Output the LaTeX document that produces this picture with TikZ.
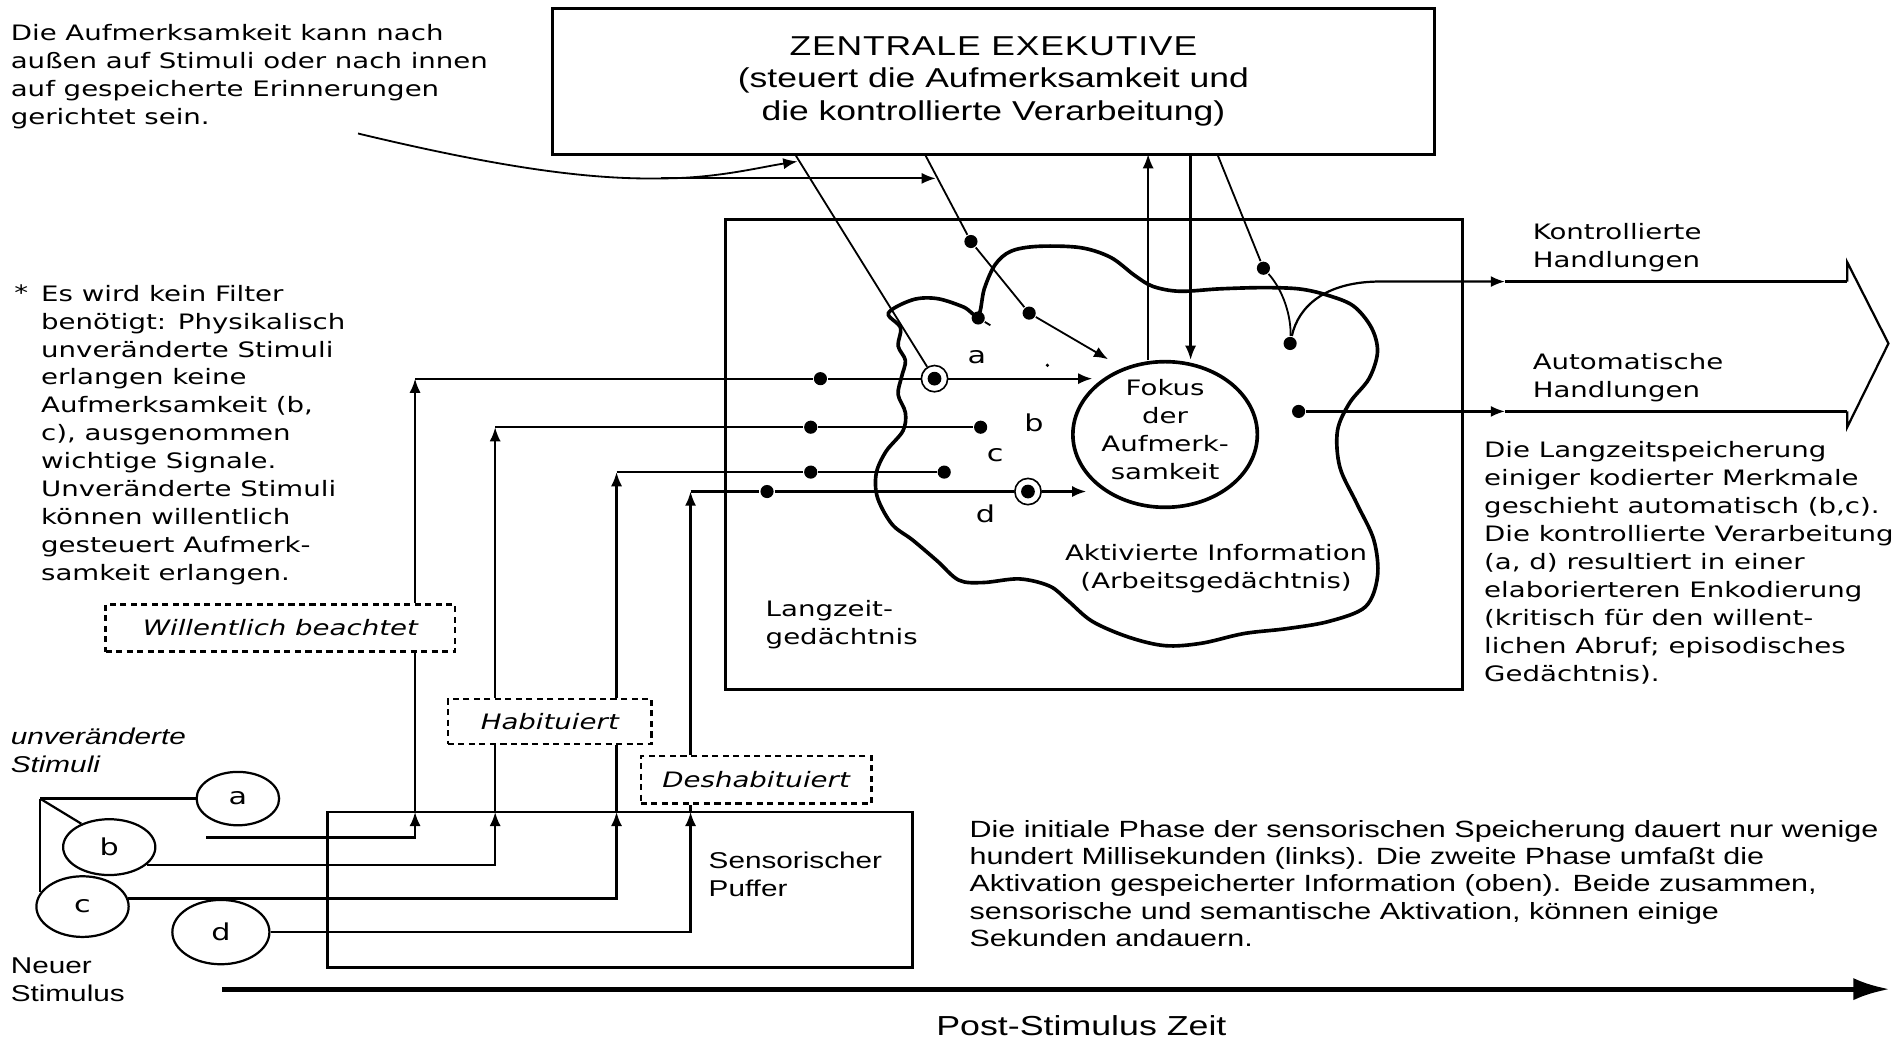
\documentclass[tikz,border=0pt]{standalone}
\usepackage{fontspec}
\setmainfont[FakeStretch=1.3]{DejaVu Sans}
\newfontfamily\mfont[FakeStretch=1.3]{Liberation Sans}
\newfontfamily\mcaps[FakeStretch=1.3,LetterSpace=3]{Liberation Sans}
\usetikzlibrary{arrows.meta,shapes.geometric}

% type sizes
\newcommand{\ftN}{\fontsize{10.5pt}{13.8pt}\selectfont}
\newcommand{\ftL}{\fontsize{11.5pt}{13.8pt}\selectfont}
\newcommand{\ftExec}{\mfont\fontsize{13.5pt}{15.9pt}\selectfont}
\newcommand{\ftPara}{\mfont\fontsize{11.6pt}{13.5pt}\selectfont}
\newcommand{\ftSide}{\mfont\fontsize{11.3pt}{13.8pt}\selectfont}
\newcommand{\ftAxis}{\mfont\fontsize{13.6pt}{16pt}\selectfont}

\begin{document}
\begin{tikzpicture}[x=0.6pt,y=-0.6pt,
  line width=1.1pt,
  box/.style={draw, rectangle, inner sep=0pt},
  dbox/.style={draw, rectangle, dash pattern=on 3pt off 2.2pt, line width=1.3pt,
               inner sep=0pt, font=\ftN\itshape},
  stim/.style={draw, ellipse, inner sep=0pt, line width=1.1pt, font=\ftL},
  dot/.style={circle, fill, inner sep=0pt, minimum size=6.5pt},
  ring/.style={circle, draw, fill=white, line width=0.8pt, inner sep=0pt, minimum size=13pt},
  arr/.style={-{Latex[length=7pt,width=5.5pt]}},
  thin/.style={line width=0.9pt},
  txt/.style={inner sep=0pt, align=left, anchor=north west, font=\ftN},
  lbl/.style={inner sep=0pt, font=\ftL},
]
\path[fill=white, use as bounding box] (0,0) rectangle (1568,858);

% ---------- boxes ----------
\node[box, line width=1.5pt, minimum width=436.2pt, minimum height=72pt,
      align=center, font=\ftExec] (exec) at (818.5,67)
      {{\mcaps ZENTRALE EXEKUTIVE}\\(steuert die Aufmerksamkeit und\\die kontrollierte Verarbeitung)};
\node[box, line width=1.3pt, minimum width=364.2pt, minimum height=232.2pt] (ltm) at (901.5,374.5) {};
\node[box, line width=1.3pt, minimum width=289.2pt, minimum height=76.8pt] (buf) at (511,733) {};

% activated memory (cloud)
\draw[line width=1.8pt] plot[smooth cycle, tension=0.55] coordinates {
  (732,258) (752,247) (772,246) (794,253) (806,260) (811,238) (820,218) (833,207)
  (855,203) (890,204) (915,212) (935,227) (950,236) (972,240) (1005,238) (1040,237)
  (1070,238) (1093,243) (1115,252) (1130,270) (1135,290) (1128,312) (1112,332)
  (1102,355) (1104,385) (1118,415) (1132,445) (1135,475) (1125,500) (1095,512)
  (1060,518) (1025,522) (990,530) (960,532) (930,525) (900,512) (880,495) (865,483)
  (840,477) (810,480) (790,478) (772,462) (752,445) (735,432) (723,410) (722,390)
  (730,372) (744,355) (746,340) (740,325) (743,310) (746,297) (740,285) (742,270)};

\node[draw, ellipse, line width=1.8pt, minimum width=91.2pt, minimum height=72pt, inner sep=0pt]
      (fokus) at (960,358) {};
\node[inner sep=0pt, align=center, font=\ftN] (fokustext) at (960,354) {Fokus\\der\\Aufmerk-\\samkeit};

% dashed gate labels
\node[dbox, minimum width=172.8pt, minimum height=23.4pt] (will) at (231,517.5) {Willentlich beachtet};
\node[dbox, minimum width=100.8pt, minimum height=22.2pt] (hab) at (453,594.5) {Habituiert};
\node[dbox, minimum width=114pt, minimum height=23.4pt] (desh) at (623,642.5) {Deshabituiert};

% stimuli
\node[stim, minimum width=40.8pt, minimum height=26.4pt] (sa) at (196,658) {a};
\node[stim, minimum width=45.6pt, minimum height=27.6pt] (sb) at (90,698) {b};
\node[stim, minimum width=45.6pt, minimum height=30pt] (sc) at (68,747) {c};
\node[stim, minimum width=48pt, minimum height=31.8pt] (sd) at (182,768) {d};

% ---------- dots ----------
\node[dot] (da1) at (676,312) {};
\node[ring] (ra) at (770,312) {};
\node[dot] (db1) at (668,352) {};
\node[dot] (db2) at (808,352) {};
\node[dot] (dc1) at (668,389) {};
\node[dot] (dc2) at (778,389) {};
\node[dot] (dd1) at (632,405) {};
\node[ring] (rd) at (847,405) {};
\node[dot] (de1) at (800,199) {};
\node[dot] (de2) at (848,258) {};
\node[dot] (dn) at (806,262) {};
\node[dot] (dk1) at (1041,221) {};
\node[dot] (dk2) at (1063,283) {};
\node[dot] (dk3) at (1070,339) {};
% filled centres of the ringed dots
\fill (ra.center) circle (3.4pt);
\fill (rd.center) circle (3.4pt);

% ---------- coordinates ----------
\coordinate (fork) at (33,658);
\coordinate (ia) at (170,690);
\coordinate (pa) at (342,669);
\coordinate (pb) at (408,669);
\coordinate (pc) at (508,669);
\coordinate (pd) at (569,669);
\coordinate (ka) at (342,312);
\coordinate (kb) at (408,352);
\coordinate (kc) at (508,389);
\coordinate (kd) at (569,405);
\coordinate (fa) at (900,312);
\coordinate (fd) at (895,405);
\coordinate (fe) at (913,296);
\coordinate (e1) at (655,127);
\coordinate (e2) at (762,127);
\coordinate (e3) at (946,127);
\coordinate (e4) at (981,127);
\coordinate (e5) at (1003,127);
\coordinate (tk) at (816,268);
\coordinate (c1) at (1134,232);
\coordinate (h1) at (1240,232);
\coordinate (h2) at (1240,339);
\coordinate (g1) at (1522,232);
\coordinate (g2) at (1522,339);
\coordinate (ch1) at (1522,216);
\coordinate (chtip) at (1556,283);
\coordinate (ch2) at (1522,352);
\coordinate (q0) at (295,110);
\coordinate (q1) at (545,147);
\coordinate (q2) at (771,147);
\coordinate (q3) at (657,133);
\coordinate (t0) at (183,815);
\coordinate (t1) at (1557,815);

% ---------- connectors ----------
% stimulus fan
\draw (fork) -- (sa.west);
\draw (fork) -- (sb.140);
\draw (fork) -- (fork |- sc.160);

% into the sensory buffer
\draw[arr] (ia) -| (pa);
\draw[arr] (sb.-25) -| (pb);
\draw[arr] (sc.10) -| (pc);
\draw[arr] (sd.east) -| (pd);

% risers through the gates
\draw (pa) -- (will.south -| pa);
\draw[arr] (will.north -| pa) -- (ka);
\draw (pb) -- (hab.south -| pb);
\draw[arr] (hab.north -| pb) -- (kb);
\draw (pc) -- (hab.south -| pc);
\draw[arr] (hab.north -| pc) -- (kc);
\draw (pd) -- (desh.south -| pd);
\draw[arr] (desh.north -| pd) -- (kd);

% into activated memory
\draw (ka) -- (da1) -- (ra);
\draw[arr] (ra) -- (fa);
\draw (kb) -- (db1) -- (db2);
\draw (kc) -- (dc1) -- (dc2);
\draw (kd) -- (dd1) -- (rd);
\draw[arr] (rd) -- (fd);

% central executive links
\draw[thin] (e1) -- (ra);
\draw[thin, arr] (e2) -- (de1) -- (de2) -- (fe);
\draw[arr] (fokus.north -| e3) -- (e3);
\draw[arr] (e4) -- (fokus.north -| e4);
\draw[thin] (e5) -- (dk1) .. controls (1058,240) and (1064,262) .. (dk2);
\draw[thin] (dn) -- (tk);
\fill (863,301) circle (0.9pt);

% outgoing actions
\draw[arr] (dk2) .. controls (1070,252) and (1092,233) .. (c1) -- (h1);
\draw (h1) -- (g1);
\draw[arr] (dk3) -- (h2);
\draw (h2) -- (g2);
\draw[miter limit=8] (g1) -- (ch1) -- (chtip) -- (ch2) -- (g2);

% attention pointer
\draw[thin] (q0) .. controls (420,140) and (490,148) .. (q1);
\draw[thin, arr] (q1) -- (q2);
\draw[thin, arr] (q1) .. controls (590,147) and (625,138) .. (q3);

% time axis
\draw[line width=2.4pt, -{Latex[length=18pt,width=11pt]}] (t0) -- (t1);

% ---------- labels ----------
\node[txt] (tl) at (8,19) {Die Aufmerksamkeit kann nach\\außen auf Stimuli oder nach innen\\auf gespeicherte Erinnerungen\\gerichtet sein.};
\node[txt] (ast) at (11,234) {*};
\node[txt] (note) at (33,234) {Es wird kein Filter\\benötigt: Physikalisch\\unveränderte Stimuli\\erlangen keine\\Aufmerksamkeit (b,\\c), ausgenommen\\wichtige Signale.\\Unveränderte Stimuli\\können willentlich\\gesteuert Aufmerk-\\samkeit erlangen.};
\node[txt, font=\ftSide\itshape] (unv) at (8,599) {unveränderte\\Stimuli};
\node[txt, font=\ftSide] (neu) at (8,788) {Neuer\\Stimulus};
\node[txt, font=\ftSide] (sens) at (583,701) {Sensorischer\\Puffer};
\node[txt] (lzg) at (630,494) {Langzeit-\\gedächtnis};
\node[inner sep=0pt, align=center, anchor=north, font=\ftN] (akt) at (1002,448) {Aktivierte Information\\(Arbeitsgedächtnis)};
\node[txt] (kh) at (1262,183) {Kontrollierte\\Handlungen};
\node[txt] (ah) at (1262,290) {Automatische\\Handlungen};
\node[txt] (lz) at (1222,363) {Die Langzeitspeicherung\\einiger kodierter Merkmale\\geschieht automatisch (b,c).\\Die kontrollierte Verarbeitung\\(a, d) resultiert in einer\\elaborierteren Enkodierung\\(kritisch für den willent-\\lichen Abruf; episodisches\\Gedächtnis).};
\node[txt, font=\ftPara] (para) at (798,675) {Die initiale Phase der sensorischen Speicherung dauert nur wenige\\hundert Millisekunden (links). Die zweite Phase umfaßt die\\Aktivation gespeicherter Information (oben). Beide zusammen,\\sensorische und semantische Aktivation, können einige\\Sekunden andauern.};
\node[inner sep=0pt, font=\ftAxis] (axis) at (891,845) {Post-Stimulus Zeit};

\node[lbl] (la) at (805,294) {a};
\node[lbl] (lb) at (852,348) {b};
\node[lbl] (lc) at (820,375) {c};
\node[lbl] (ld) at (812,423) {d};
\end{tikzpicture}
\end{document}
